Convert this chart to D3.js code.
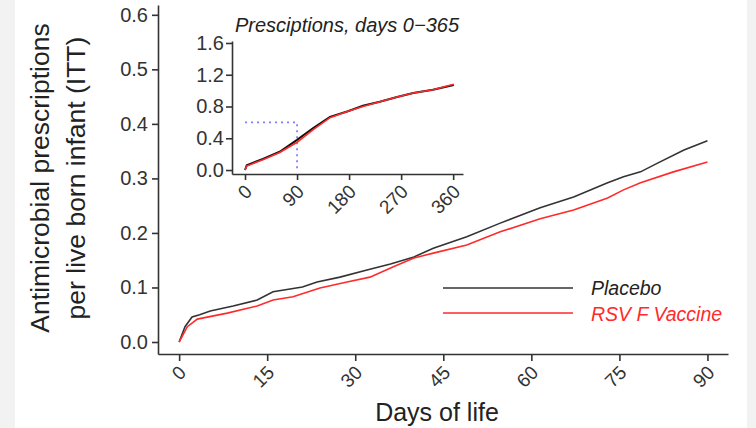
<!DOCTYPE html>
<html>
<head>
<meta charset="utf-8">
<script src="https://cdn.jsdelivr.net/npm/d3@7"></script>
<style>
    body { margin: 0; background: #f2f2f2; }
    text { font-family: "Liberation Sans", Arial, sans-serif; fill: #222; }
    .axis path, .axis line { stroke: #333; stroke-width: 1.6px; }
    .axis text { font-size: 20px; fill: #333; }
    .axis.x text { font-size: 19px; }
</style>
</head>
<body>
<div id="chart"></div>
<script>

// main panel, days 0-90
let mainDays    = [0, 1, 2.2, 3.5, 5.3, 9.2, 13.3, 16, 21, 23.5, 27.4, 32, 36, 40, 43.3, 49, 54.7, 61.5, 67.2, 73, 75.7, 78.6, 81.5, 86, 90];
let placeboMain = [0, 0.028, 0.046, 0.050, 0.057, 0.066, 0.077, 0.092, 0.101, 0.110, 0.119, 0.132, 0.143, 0.156, 0.172, 0.193, 0.218, 0.246, 0.266, 0.292, 0.303, 0.312, 0.328, 0.352, 0.369];

let rsvDays     = [0, 1.4, 3.1, 8.2, 13.3, 16, 19.4, 24, 28.6, 32.5, 36.5, 40, 43.3, 49, 54.7, 61.5, 67.2, 73, 75.7, 78.6, 84.2, 90];
let vaccineMain = [0, 0.028, 0.042, 0.053, 0.066, 0.077, 0.083, 0.099, 0.110, 0.119, 0.138, 0.154, 0.163, 0.178, 0.202, 0.226, 0.242, 0.264, 0.279, 0.292, 0.312, 0.330];

// inset, days 0-365
let insetDays    = [0, 3, 31, 60, 90, 118, 147, 178, 204, 233, 263, 291, 325, 361];
let placeboInset = [0, 0.06, 0.14, 0.23, 0.38, 0.53, 0.67, 0.74, 0.81, 0.86, 0.92, 0.97, 1.01, 1.07];
let vaccineInset = [0, 0.05, 0.13, 0.22, 0.35, 0.51, 0.66, 0.74, 0.80, 0.86, 0.92, 0.97, 1.01, 1.08];

let mainXTicks  = [0, 15, 30, 45, 60, 75, 90];
let mainYTicks  = [0, 0.1, 0.2, 0.3, 0.4, 0.5, 0.6];
let insetXTicks = [0, 90, 180, 270, 360];
let insetYTicks = [0, 0.4, 0.8, 1.2, 1.6];

let seriesNames  = ['Placebo', 'RSV F Vaccine'];
let seriesColors = ['#333333', '#ff2a2a'];

let width = 756, height = 428;

let svg = d3.select('#chart').append('svg')
    .attr('width', width)
    .attr('height', height);

// white panel
svg.append('rect')
    .attr('x', 15).attr('y', 0)
    .attr('width', 732).attr('height', height)
    .attr('fill', '#fff');

// ---- main chart ----
let x = d3.scaleLinear().domain([-3.6, 93.5]).range([158, 728]);
let y = d3.scaleLinear().domain([-0.022, 0.618]).range([354, 5]);

let line = d3.line()
    .x(d => x(d[0]))
    .y(d => y(d[1]));

svg.append('g')
    .attr('class', 'axis x')
    .attr('transform', 'translate(0,354)')
    .call(d3.axisBottom(x).tickValues(mainXTicks).tickSize(7).tickSizeOuter(0).tickFormat(d3.format('d')))
    .selectAll('text')
    .attr('x', 0).attr('y', 0).attr('dy', '0.35em')
    .attr('text-anchor', 'end')
    .attr('transform', 'translate(3,15) rotate(-45)');

svg.append('g')
    .attr('class', 'axis')
    .attr('transform', 'translate(158,0)')
    .call(d3.axisLeft(y).tickValues(mainYTicks).tickSize(6).tickSizeOuter(0).tickFormat(d3.format('.1f')))
    .selectAll('text').attr('x', -10);

svg.append('path')
    .datum(d3.zip(mainDays, placeboMain))
    .attr('d', line)
    .attr('fill', 'none')
    .attr('stroke', seriesColors[0])
    .attr('stroke-width', 1.6);

svg.append('path')
    .datum(d3.zip(rsvDays, vaccineMain))
    .attr('d', line)
    .attr('fill', 'none')
    .attr('stroke', seriesColors[1])
    .attr('stroke-width', 1.6);

// axis titles
let yTitle = svg.append('text')
    .attr('transform', 'translate(0,178) rotate(-90)')
    .attr('text-anchor', 'middle')
    .style('font-size', '26.5px');
yTitle.append('tspan').attr('x', 0).attr('y', 49).text('Antimicrobial prescriptions');
yTitle.append('tspan').attr('x', 0).attr('y', 85).text('per live born infant (ITT)');

svg.append('text')
    .attr('x', 437).attr('y', 421)
    .attr('text-anchor', 'middle')
    .style('font-size', '25px')
    .text('Days of life');

// legend
let legend = svg.append('g').attr('class', 'legend');
seriesNames.forEach((name, i) => {
    legend.append('line')
        .attr('x1', 443).attr('x2', 573)
        .attr('y1', 288 + i * 25).attr('y2', 288 + i * 25)
        .attr('stroke', seriesColors[i])
        .attr('stroke-width', 1.6);
    legend.append('text')
        .attr('x', 591).attr('y', 295 + i * 26)
        .style('font-size', '19.5px')
        .style('font-style', 'italic')
        .style('fill', i === 0 ? '#222' : '#ff2a2a')
        .text(name);
});

// ---- inset ----
let xi = d3.scaleLinear().domain([-22.5, 377]).range([232, 463]);
let yi = d3.scaleLinear().domain([-0.05, 1.625]).range([174, 41]);

let lineInset = d3.line()
    .x(d => xi(d[0]))
    .y(d => yi(d[1]));

svg.append('g')
    .attr('class', 'axis x')
    .attr('transform', 'translate(0,174)')
    .call(d3.axisBottom(xi).tickValues(insetXTicks).tickSize(6).tickSizeOuter(0).tickFormat(d3.format('d')))
    .selectAll('text')
    .attr('x', 0).attr('y', 0).attr('dy', '0.35em')
    .attr('text-anchor', 'end')
    .attr('transform', 'translate(3,14) rotate(-45)');

svg.append('g')
    .attr('class', 'axis')
    .attr('transform', 'translate(232,0)')
    .call(d3.axisLeft(yi).tickValues(insetYTicks).tickSize(6).tickSizeOuter(0).tickFormat(d3.format('.1f')))
    .selectAll('text').attr('x', -8);

// dotted guide to day 90 / 0.6
svg.append('path')
    .attr('d', `M${xi(0)},${yi(0.6)}H${xi(90)}V${yi(0)}`)
    .attr('fill', 'none')
    .attr('stroke', '#7f7fff')
    .attr('stroke-width', 1.8)
    .attr('stroke-dasharray', '2,4');

svg.append('path')
    .datum(d3.zip(insetDays, placeboInset))
    .attr('d', lineInset)
    .attr('fill', 'none')
    .attr('stroke', '#111')
    .attr('stroke-width', 2);

svg.append('path')
    .datum(d3.zip(insetDays, vaccineInset))
    .attr('d', lineInset)
    .attr('fill', 'none')
    .attr('stroke', seriesColors[1])
    .attr('stroke-width', 1.6);

svg.append('text')
    .attr('x', 235).attr('y', 32)
    .style('font-size', '20px')
    .style('font-style', 'italic')
    .text('Presciptions, days 0\u2212365');

</script>
</body>
</html>
